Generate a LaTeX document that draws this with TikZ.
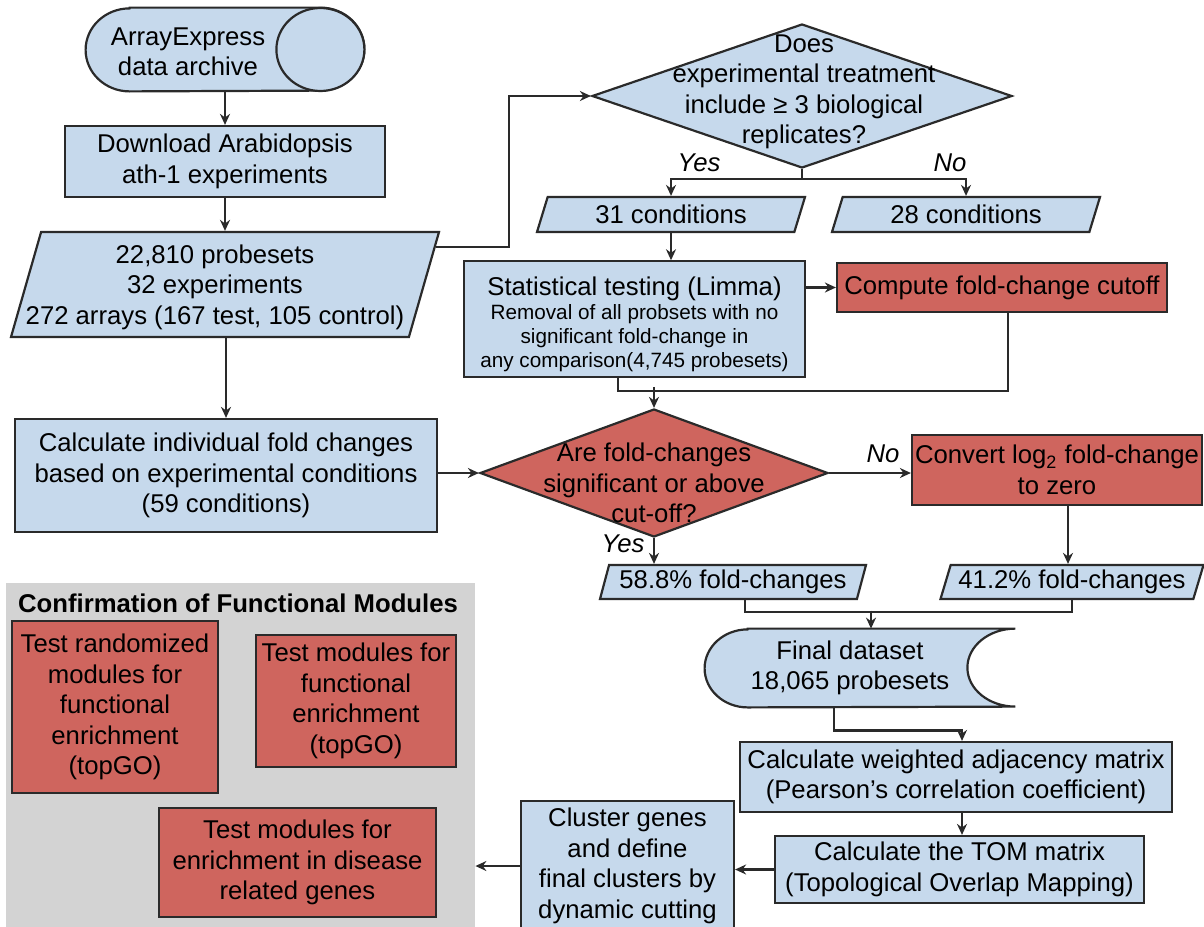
\documentclass[tikz,border=0pt]{standalone}
\usepackage{fontspec}
\setmainfont{Liberation Sans}
\usetikzlibrary{shapes.geometric,arrows.meta}
\definecolor{boxblue}{HTML}{C6D9EC}
\definecolor{boxred}{HTML}{CF655E}
\definecolor{panelgrey}{HTML}{D3D3D3}
\definecolor{linegrey}{HTML}{2A2A2A}
\begin{document}
\begin{tikzpicture}[x=0.5pt,y=-0.5pt,
  font=\fontsize{12.85}{15.25}\selectfont,
  line/.style={draw=linegrey,line width=1.1pt},
  arr/.style={line,-{Stealth[length=5.5pt,width=5pt]}},
  bluebox/.style={line,fill=boxblue,inner sep=1pt,align=center},
  redbox/.style={line,fill=boxred,inner sep=1pt,align=center},
  slab/.style={bluebox,trapezium,trapezium stretches body},
  decision/.style={line,diamond,inner sep=0pt},
  answer/.style={font=\fontsize{12.85}{15.25}\selectfont\itshape}]
  \useasboundingbox (0,0) rectangle (1204,926);
  \node[fill=panelgrey,inner sep=0pt,minimum width=234.5pt,minimum height=180pt] (panel) at (240.5,763) {};
  \node[font=\fontsize{12.85}{15.25}\selectfont\bfseries] (paneltitle) at (238,603) {Confirmation of Functional Modules};
  \node[redbox,minimum width=103pt,minimum height=86pt] (random) at (115,707) {Test randomized\\modules for\\functional\\enrichment\\(topGO)};
  \node[redbox,minimum width=100pt,minimum height=66pt] (enrich) at (356,701) {Test modules for\\functional\\enrichment\\(topGO)};
  \node[redbox,minimum width=138.5pt,minimum height=54.5pt] (disease) at (297.5,862.5) {Test modules for\\enrichment in disease\\related genes};

  \node[inner sep=0pt,minimum width=139pt,minimum height=41.5pt] (archive) at (225,49.5) {};
  \draw[line,fill=boxblue] ([xshift=22pt]archive.north west) -- ([xshift=-22pt]archive.north east)
    arc[start angle=90,end angle=-90,x radius=22pt,y radius=20.75pt] -- ([xshift=22pt]archive.south west)
    arc[start angle=270,end angle=90,x radius=22pt,y radius=20.75pt] -- cycle;
  \draw[line,fill=boxblue] ([xshift=-22pt]archive.east) ellipse[x radius=22pt,y radius=20.75pt];
  \node[align=center] (archivetext) at (188,52) {ArrayExpress\\data archive};
  \node[bluebox,minimum width=160pt,minimum height=35.5pt] (download) at (225,161.5) {Download Arabidopsis\\ath-1 experiments};
  \node[slab,trapezium left angle=74,trapezium right angle=106,minimum width=214pt] (probes) at (225,284.5) {\rule{0pt}{50.5pt}};
  \node[align=center] (probestext) at (215,287) {22,810 probesets\\32 experiments\\272 arrays (167 test, 105 control)};
  \node[bluebox,minimum width=211pt,minimum height=56.5pt] (calc) at (226,475.5) {Calculate individual fold changes\\based on experimental conditions\\(59 conditions)};

  \node[decision,fill=boxblue,minimum width=210pt,minimum height=72pt] (ask) at (802,96) {};
  \node[align=center] (asktext) at (804,92) {Does\\experimental treatment\\include ≥ 3 biological\\replicates?};
  \node[slab,trapezium left angle=65,trapezium right angle=115,minimum width=134pt,minimum height=17.5pt] (cond31) at (671,214.5) {31 conditions};
  \node[slab,trapezium left angle=65,trapezium right angle=115,minimum width=134pt,minimum height=17.5pt] (cond28) at (966,214.5) {28 conditions};
  \node[answer] (yes1) at (699,163) {Yes};
  \node[answer] (no1) at (950,163) {No};
  \node[bluebox,minimum width=170.5pt,minimum height=56pt] (limma) at (634.5,319) {\rule{0pt}{16pt}Statistical testing (Limma)\\
    {\fontsize{10.35}{12}\selectfont\begin{tabular}{@{}c@{}}Removal of all probsets with no\\significant fold-change in\\any comparison(4,745 probesets)\end{tabular}}};
  \node[redbox,minimum width=165pt,minimum height=24.5pt] (cutoff) at (1002,287.5) {Compute fold-change cutoff};

  \node[decision,fill=boxred,minimum width=174pt,minimum height=64pt] (sig) at (654,473) {};
  \node[align=center] (sigtext) at (654,483) {Are fold-changes\\significant or above\\cut-off?};
  \node[answer] (no2) at (883,454) {No};
  \node[answer] (yes2) at (623,544) {Yes};
  \node[redbox,minimum width=145pt,minimum height=35pt] (zero) at (1057,470) {Convert log\textsubscript{2} fold-change\\to zero};
  \node[slab,trapezium left angle=72,trapezium right angle=108,minimum width=133pt,minimum height=17pt] (fc58) at (733,582) {58.8\% fold-changes};
  \node[slab,trapezium left angle=70,trapezium right angle=110,minimum width=131.5pt,minimum height=17pt] (fc41) at (1072,582) {41.2\% fold-changes};

  \node[inner sep=0pt,minimum width=155pt,minimum height=39pt] (final) at (860,668) {};
  \draw[line,fill=boxblue] ([xshift=21.5pt]final.north west) -- (final.north east)
    arc[start angle=90,end angle=270,x radius=24pt,y radius=19.5pt] -- ([xshift=21.5pt]final.south west)
    arc[start angle=270,end angle=90,x radius=21.5pt,y radius=19.5pt] -- cycle;
  \node[align=center] (finaltext) at (850,668) {Final dataset\\18,065 probesets};
  \node[bluebox,minimum width=216pt,minimum height=35pt] (adjacency) at (956,777) {Calculate weighted adjacency matrix\\(Pearson's correlation coefficient)};
  \node[bluebox,minimum width=184.5pt,minimum height=33.5pt] (tom) at (959.5,869.5) {Calculate the TOM matrix\\(Topological Overlap Mapping)};
  \node[bluebox,minimum width=106.5pt,minimum height=65pt] (cluster) at (627.5,866) {Cluster genes\\and define\\final clusters by\\dynamic cutting};

  \draw[arr] (archive.south) -- (download.north);
  \draw[arr] (download.south) -- (download.south |- probes.north);
  \draw[arr] ([xshift=-2.3pt,yshift=-8pt]probes.top right corner) -- ++(36.5pt,0) |- (ask.west);
  \draw[arr] (probes.south -| calc.north) -- (calc.north);
  \draw[arr] (ask.south) -- ++(0,-5pt) -| (cond31.north);
  \draw[arr] (ask.south) -- ++(0,-5pt) -| (cond28.north);
  \draw[arr] (cond31.south -| cond31.north) -- (limma.north -| cond31.north);
  \draw[arr] (limma.east |- cutoff.west) -- (cutoff.west);
  \draw[line] ([xshift=-8.25pt]limma.south) -- ++(0,-6.5pt) -| ([xshift=3pt]cutoff.south);
  \draw[arr] ([yshift=10.5pt]sig.north) -- (sig.north);
  \draw[arr] (calc.east |- sig.west) -- (sig.west);
  \draw[arr] (sig.east) -- (sig.east -| zero.west);
  \draw[arr] (sig.south) -- (sig.south |- fc58.north);
  \draw[arr] ([xshift=5.5pt]zero.south) -- ([xshift=5.5pt]zero.south |- fc41.north);
  \draw[line] ([xshift=6pt]fc58.south) -- ++(0,-6pt) -| (fc41.south);
  \draw[arr] ([xshift=5.5pt,yshift=9pt]final.north) -- ([xshift=5.5pt]final.north);
  \draw[arr] ([xshift=-13pt]final.south) -- ++(0,-11.5pt) -| ([xshift=3pt]adjacency.north);
  \draw[arr] ([xshift=3pt]adjacency.south) -- ([xshift=3pt]adjacency.south |- tom.north);
  \draw[arr] (tom.west) -- (tom.west -| cluster.east);
  \draw[arr] (cluster.west) -- (cluster.west -| panel.east);
\end{tikzpicture}
\end{document}
